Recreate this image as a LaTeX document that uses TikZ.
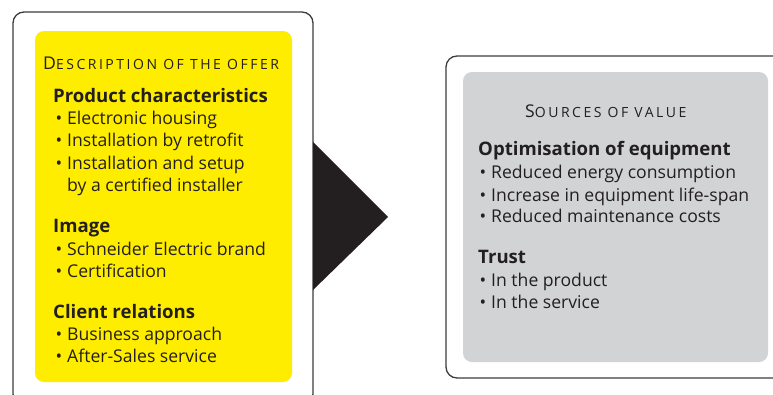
\documentclass[tikz,border=0pt]{standalone}
\usepackage{fontspec}
\setmainfont{Open Sans}
\newfontfamily\scfont[LetterSpace=18]{Open Sans}
\definecolor{txt}{HTML}{231F20}
\definecolor{yel}{HTML}{FFED00}
\definecolor{gry}{HTML}{D1D3D4}
\definecolor{framec}{HTML}{3C3C3C}
\newcommand{\bul}{\llap{\textbullet\hspace{5pt}}}
\newcommand{\fakesc}[2]{{\fontsize{17.6}{20}\selectfont #1}{\scfont\fontsize{14}{15}\selectfont #2}}
\begin{document}
\begin{tikzpicture}[x=1pt,y=-1pt,
  lbl/.style={anchor=base west,inner sep=0,text=txt,font=\fontsize{17.6}{20}\selectfont},
  item/.style={lbl},
  head/.style={lbl,font=\fontsize{18.6}{20}\selectfont\bfseries},
  title/.style={lbl},
  outer/.style={draw=framec,line width=1.3pt,fill=white,rounded corners=11pt},
  inner/.style={rounded corners=9pt}]
\useasboundingbox (0,0) rectangle (773,394);
% left panel
\draw[outer] (13,12) rectangle (313,405);
\fill[yel,inner] (35,31) rectangle (292,382);
% arrow
\fill[txt] (313,142) -- (388,217) -- (313,290) -- cycle;
% right panel
\draw[outer] (446,56) rectangle (790,378);
\fill[gry,inner] (463,72) rectangle (768,362);
% left texts
\node[title] (t1) at (43,69) {\fakesc{D}{ESCRIPTION OF THE OFFER}};
\node[head] (h1) at (53,102) {Product characteristics};
\node[item] (a1) at (67,124.3) {\bul Electronic housing};
\node[item] (a2) at (67,146.7) {\bul Installation by retrofit};
\node[item] (a3) at (67,169) {\bul Installation and setup};
\node[item] (a4) at (67,191) {by a certified installer};
\node[head] (h2) at (53,232.3) {Image};
\node[item] (b1) at (67,255) {\bul Schneider Electric brand};
\node[item] (b2) at (67,277.3) {\bul Certification};
\node[head] (h3) at (53,318.3) {Client relations};
\node[item] (c1) at (67,340.7) {\bul Business approach};
\node[item] (c2) at (67,362.3) {\bul After-Sales service};
% right texts
\node[title] (t2) at (525,117.7) {\fakesc{S}{OURCES OF VALUE}};
\node[head] (h4) at (478,155.7) {Optimisation of equipment};
\node[item] (d1) at (491,178.3) {\bul Reduced energy consumption};
\node[item] (d2) at (491,201) {\bul Increase in equipment life-span};
\node[item] (d3) at (491,222.7) {\bul Reduced maintenance costs};
\node[head] (h5) at (478,263.3) {Trust};
\node[item] (e1) at (491,286) {\bul In the product};
\node[item] (e2) at (491,308.3) {\bul In the service};
\end{tikzpicture}
\end{document}
